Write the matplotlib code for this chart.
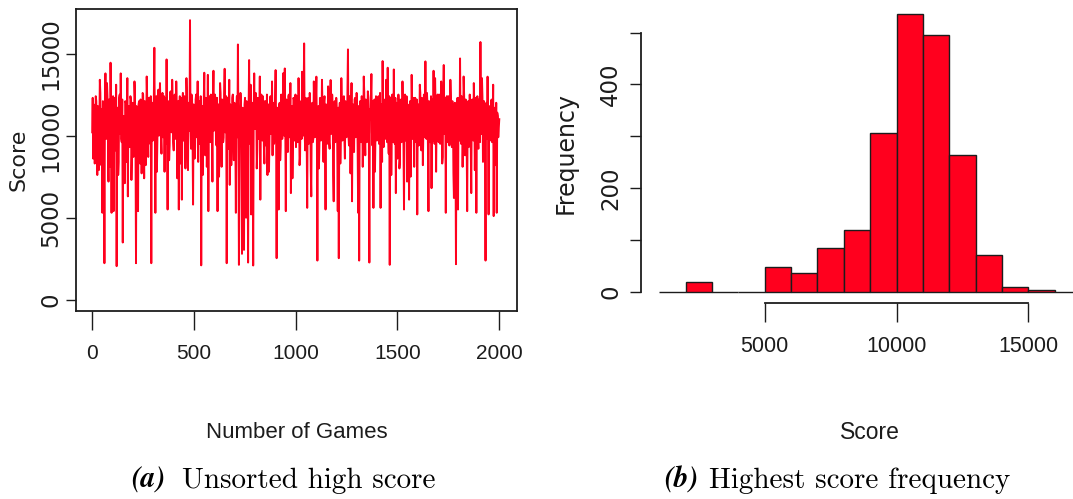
import numpy as np
import matplotlib
matplotlib.use("Agg")
import matplotlib.pyplot as plt

# ---------------- data ----------------
# left panel: high score per game (sampled every 2.5 games, read from the picture)
scores = [
    10200, 12300, 8600, 11900, 11800, 8300, 9400, 12400, 12100, 9600, 7600, 11800, 11500, 7900, 10300, 13400, 12600, 9800, 8200, 11600,
    5300, 12100, 11900, 9500, 2230, 11700, 13790, 10200, 9800, 13200, 12400, 9900, 7200, 12200, 11600, 8100, 14440, 11300, 5300, 10600,
    10800, 12400, 5400, 11200, 12300, 9700, 9100, 13100, 2050, 11500, 11700, 7600, 8400, 12300, 12500, 10100, 13790, 9800, 9600, 12200,
    3490, 11000, 11200, 9400, 7100, 12100, 12000, 8400, 10400, 13500, 6300, 11400, 11800, 9700, 9300, 12400, 12200, 7300, 8800, 12000,
    11900, 8700, 9700, 13300, 12300, 9600, 2230, 11800, 10900, 9300, 5400, 11900, 12100, 10000, 8300, 12200, 11400, 7700, 9900, 12600,
    12500, 9800, 7400, 12100, 11700, 8200, 10100, 13600, 12200, 9900, 8700, 12300, 11300, 10200, 9500, 12400, 2230, 11600, 12000, 9700,
    10600, 12300, 15350, 10100, 5300, 11800, 12400, 7800, 9800, 12500, 12800, 10000, 10300, 13200, 11900, 9800, 8900, 12200, 12600, 9900,
    10800, 12400, 7800, 11700, 12300, 9500, 14640, 10300, 5500, 12100, 11600, 8500, 9400, 12600, 12700, 10400, 10200, 13400, 12000, 9600,
    9100, 12200, 12500, 9800, 10700, 13300, 11800, 7400, 8600, 12100, 5500, 11500, 12400, 8300, 10000, 12300, 6100, 11800, 12600, 9700,
    9700, 12400, 11900, 8000, 10500, 13500, 12300, 10000, 7900, 12000, 11500, 10300, 17030, 10600, 9200, 12500, 12200, 9800, 5800, 11900,
    11700, 8600, 9300, 12200, 12500, 9900, 10600, 13300, 8400, 11700, 12100, 9500, 9900, 12400, 2100, 11300, 11800, 7600, 10400, 12300,
    13830, 10100, 8800, 12300, 12000, 8100, 10200, 13700, 5400, 11900, 12400, 9800, 9600, 12500, 11600, 10000, 7200, 12100, 13950, 10300,
    10900, 12500, 12200, 9700, 9400, 12300, 5400, 11600, 11900, 7500, 10300, 13200, 12600, 10000, 8100, 12200, 11400, 9600, 9900, 12400,
    14070, 10200, 10600, 12400, 2230, 11100, 12300, 9800, 9200, 13400, 7000, 11900, 11700, 8200, 10100, 12300, 12500, 9900, 8500, 12000,
    11300, 9600, 5300, 11800, 12400, 9900, 15550, 10400, 2130, 11500, 10800, 12600, 12100, 7700, 2800, 11700, 11600, 9700, 3040, 11900,
    12300, 8400, 5000, 12100, 11000, 8800, 2270, 11600, 14600, 10200, 9500, 13100, 5200, 11800, 12000, 9600, 2090, 11400, 13790, 10500,
    10400, 12600, 12200, 8000, 9100, 12300, 11800, 9800, 10700, 13600, 6100, 11600, 12500, 9900, 9700, 12400, 11400, 9300, 8300, 12100,
    12100, 9400, 10200, 12500, 7600, 11800, 11900, 7800, 9800, 12200, 12400, 10100, 10600, 13300, 8800, 12000, 11700, 9500, 10000, 12300,
    13990, 10400, 2535, 11700, 11300, 9400, 5500, 11900, 12000, 8500, 9400, 12500, 11600, 9800, 10300, 13800, 12300, 10000, 14090, 10600,
    5400, 12200, 11100, 9500, 9000, 12400, 12500, 9900, 10500, 13200, 6500, 11700, 11800, 7400, 9600, 12300, 12200, 9700, 10800, 12500,
    9300, 12200, 12400, 9600, 10600, 13500, 11700, 8200, 8700, 12000, 12100, 9800, 13890, 10300, 10000, 12400, 15615, 10200, 9100, 12300,
    11900, 9700, 5600, 11600, 12300, 9500, 10400, 12600, 11500, 7900, 6300, 11800, 12000, 9600, 9800, 13300, 11400, 9900, 10700, 12200,
    13590, 10100, 2390, 11500, 11800, 8000, 9500, 12300, 12200, 9700, 10300, 13400, 11600, 9900, 8400, 12100, 12400, 9800, 5500, 11900,
    11200, 9500, 10000, 13000, 12300, 9600, 9200, 12000, 13385, 10100, 10800, 12500, 11700, 7600, 6000, 11800, 12100, 9600, 9700, 12300,
    11500, 9400, 5400, 11700, 2535, 11200, 12000, 8300, 9900, 13500, 11800, 9700, 10500, 12300, 12400, 9800, 8600, 12100, 11300, 9900,
    10100, 12500, 15250, 10000, 9400, 12400, 12200, 7700, 10700, 13200, 6000, 11500, 11900, 9500, 9000, 12200, 12300, 9900, 10400, 12600,
    11700, 9300, 5300, 11800, 2390, 11000, 12100, 9700, 9600, 12400, 11500, 8100, 10200, 13600, 12600, 10000, 8800, 12200, 11900, 9600,
    10600, 12700, 12300, 9800, 2270, 11600, 11000, 12300, 13750, 10200, 9400, 12100, 5600, 11700, 12200, 7800, 10300, 12400, 11600, 9700,
    9800, 12300, 12400, 9500, 10900, 12600, 5600, 11900, 11800, 8400, 14540, 10300, 9300, 12200, 12100, 9800, 10500, 13400, 11400, 9600,
    14135, 10100, 8900, 12400, 2130, 11300, 12300, 7600, 10000, 12500, 11700, 9600, 14030, 10200, 9500, 12300, 6500, 11600, 12000, 8600,
    10600, 12500, 11900, 8000, 8500, 12100, 12200, 9600, 9900, 13300, 11300, 9400, 5500, 11800, 12500, 9700, 10300, 12400, 7200, 11900,
    11600, 9500, 6100, 11700, 12100, 7500, 9400, 13700, 11800, 9800, 10700, 12300, 8100, 11900, 12300, 9600, 9700, 12200, 5200, 11500,
    11900, 9400, 10200, 13100, 12600, 9700, 9100, 12300, 11500, 8200, 10600, 12500, 12400, 9900, 14520, 10400, 9800, 12600, 12000, 9300,
    5400, 12100, 11300, 9600, 10500, 12400, 6800, 11800, 12200, 9700, 13950, 10300, 9500, 13500, 11700, 7800, 10900, 12300, 12500, 9800,
    9600, 12500, 12100, 9500, 10400, 13300, 11800, 8300, 8700, 12200, 14300, 10100, 10800, 12300, 5300, 11700, 12400, 9600, 9900, 12400,
    11600, 9400, 10200, 13400, 12300, 9800, 9300, 12100, 11400, 7700, 6200, 11800, 12000, 9600, 2170, 11200, 10700, 12300, 5500, 11900,
    12300, 9700, 14700, 10200, 9500, 12400, 11900, 8100, 10300, 13600, 12500, 9900, 8800, 12200, 11700, 9600, 5400, 11800, 12100, 9300,
    10000, 12500, 11400, 9500, 6500, 11900, 12200, 9800, 9700, 13200, 11800, 7900, 10600, 12300, 5300, 11700, 12400, 9900, 9200, 12200,
    11600, 9600, 15700, 10400, 10100, 13500, 12300, 8400, 9000, 12100, 11900, 9500, 2390, 11300, 12000, 9800, 13590, 10200, 5200, 11800,
    11500, 9700, 9800, 12100, 12200, 9600, 10400, 13100, 5100, 11600, 11700, 8200, 9600, 12000, 5300, 11400, 11200, 9900, 10500, 11000,
]
n_games = 2000

# right panel: histogram of scores
bin_edges = [1000, 2000, 3000, 4000, 5000, 6000, 7000, 8000, 9000, 10000,
             11000, 12000, 13000, 14000, 15000, 16000, 17000, 18000]
hist_counts = [0, 19, 1, 1, 48, 37, 86, 119, 306, 536, 496, 265, 72, 10, 5, 0, 1]

left_xticks = [0, 500, 1000, 1500, 2000]
left_yticks = [0, 5000, 10000, 15000]
right_xticks = [5000, 10000, 15000]
right_yticks = [0, 100, 200, 300, 400, 500]
right_ylabels = ["0", "", "200", "", "400", ""]

# ---------------- style ----------------
RED = "#FF001E"
INK = "#1c1c1c"
NARROW = ["Liberation Sans Narrow", "Liberation Sans", "DejaVu Sans"]
WIDE = ["DejaVu Sans"]

W, H = 1073, 499
fig = plt.figure(figsize=(W / 100, H / 100), dpi=100)


def rect(x0, y0, x1, y1):
    return [x0 / W, 1 - y1 / H, (x1 - x0) / W, (y1 - y0) / H]


# ---------------- left panel ----------------
ax1 = fig.add_axes(rect(76, 9, 517, 311))
games = np.linspace(1, n_games, len(scores))
ax1.plot(games, scores, color=RED, lw=1.4)
ax1.set_xlim(-78.5, 2087)
ax1.set_ylim(-681, 17711)
ax1.set_xticks(left_xticks)
ax1.set_yticks(left_yticks)
for s in ax1.spines.values():
    s.set_linewidth(1.3)
    s.set_color(INK)
ax1.tick_params(axis="x", length=13.5, width=1.0, pad=10, colors=INK)
ax1.tick_params(axis="y", length=7, width=1.0, pad=3, colors=INK, labelrotation=90)
for lab in ax1.get_xticklabels():
    lab.set_fontfamily(NARROW)
    lab.set_fontstretch("condensed")
    lab.set_fontsize(15)
for lab in ax1.get_yticklabels():
    lab.set_fontfamily(WIDE)
    lab.set_fontsize(16.5)
    lab.set_va("center")
ax1.set_ylabel("Score", family=WIDE, fontsize=16, color=INK, va="center")
ax1.yaxis.set_label_coords((19 - 76) / 441, 0.5)
ax1.set_xlabel("Number of Games", family=NARROW, fontstretch="condensed",
               fontsize=16, color=INK, va="center")
ax1.xaxis.set_label_coords(0.5, (311 - 432) / 302)

# ---------------- right panel ----------------
ax2 = fig.add_axes(rect(641.4, 2.7, 1073, 303.3))
edges = np.array(bin_edges)
ax2.bar(edges[:-1], hist_counts, width=np.diff(edges), align="edge",
        color=RED, edgecolor=INK, linewidth=1.0)
ax2.set_xlim(320, 16694)
ax2.set_ylim(-21.4, 557.4)
ax2.spines["top"].set_visible(False)
ax2.spines["right"].set_visible(False)
ax2.spines["left"].set_bounds(0, 500)
ax2.spines["bottom"].set_bounds(5000, 15000)
for s in ("left", "bottom"):
    ax2.spines[s].set_linewidth(1.3)
    ax2.spines[s].set_color(INK)
ax2.set_xticks(right_xticks)
ax2.set_yticks(right_yticks)
ax2.set_yticklabels(right_ylabels)
ax2.tick_params(axis="x", length=13.5, width=1.0, pad=10, colors=INK)
ax2.tick_params(axis="y", length=7.8, width=1.0, pad=6, colors=INK, labelrotation=90)
for lab in ax2.get_xticklabels():
    lab.set_fontfamily(NARROW)
    lab.set_fontstretch("condensed")
    lab.set_fontsize(15.5)
for lab in ax2.get_yticklabels():
    lab.set_fontfamily(WIDE)
    lab.set_fontsize(16.5)
    lab.set_va("center")
ax2.set_ylabel("Frequency", family=WIDE, fontsize=17, color=INK, va="center")
ax2.yaxis.set_label_coords((565.5 - 641.4) / 431.6, 0.5)
ax2.set_xlabel("Score", family=NARROW, fontstretch="condensed",
               fontsize=16.5, color=INK, va="center")
ax2.xaxis.set_label_coords((870 - 641.4) / 431.6, (303.3 - 432.7) / 300.6)

# ---------------- captions ----------------
yb = 1 - 488 / H
fig.text(165 / W, yb, "(a)", family="STIXGeneral", weight="bold", style="italic",
         fontsize=21, ha="right", va="baseline", color="black")
fig.text(182 / W, yb, "Unsorted high score", family="cmr10", fontsize=21,
         ha="left", va="baseline", color="black")
fig.text(698 / W, yb, "(b)", family="STIXGeneral", weight="bold", style="italic",
         fontsize=21, ha="right", va="baseline", color="black")
fig.text(709 / W, yb, "Highest score frequency", family="cmr10", fontsize=21,
         ha="left", va="baseline", color="black")

fig.savefig("out.png", dpi=100)
